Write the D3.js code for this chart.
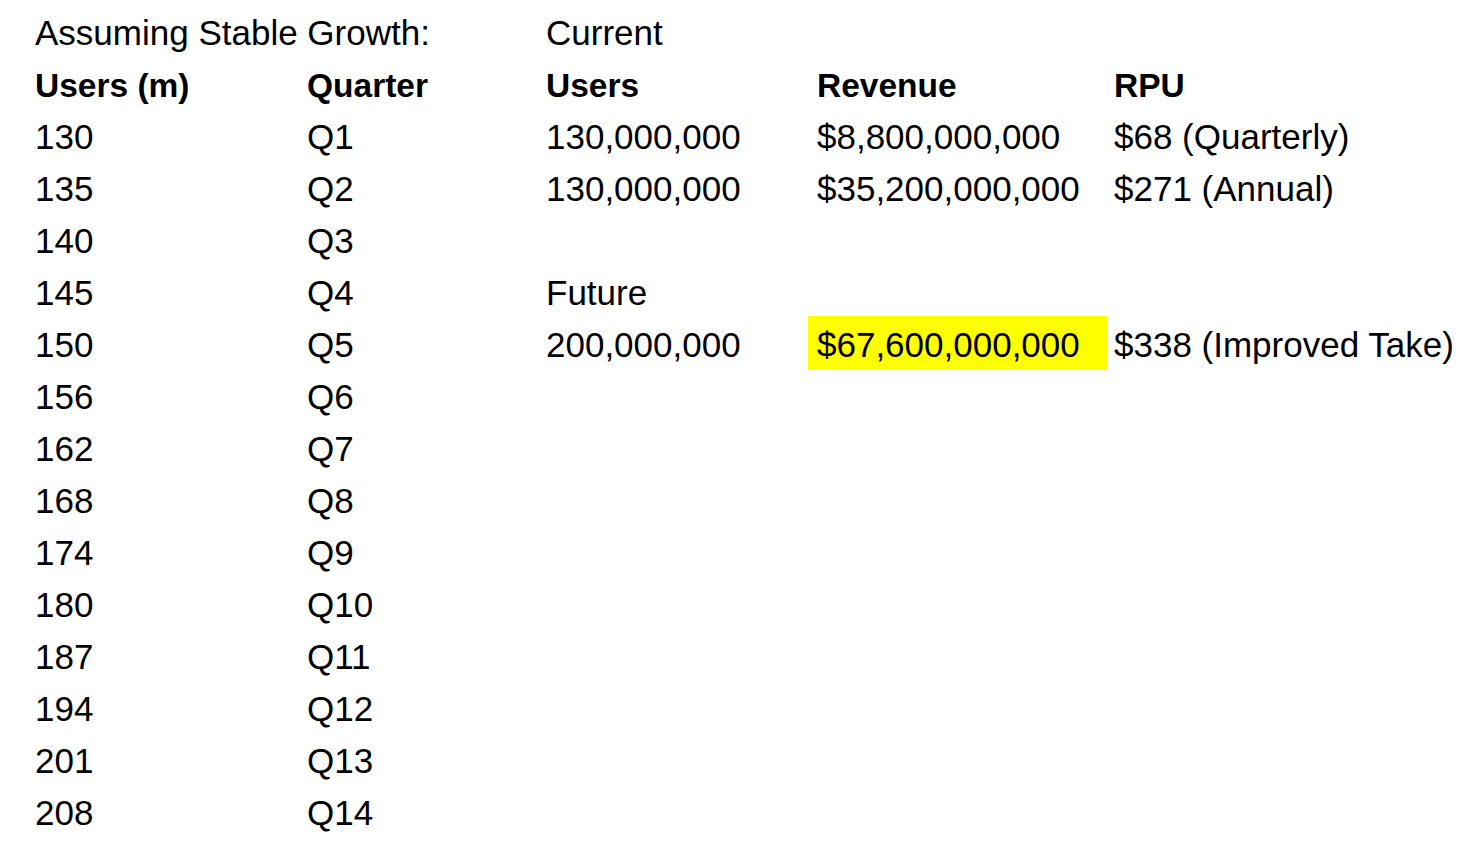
<html>
<head>
<style>
  body { margin: 0; background: #fff; }
  text { font-family: "Liberation Sans", Arial, sans-serif; font-size: 35px; fill: #000; }
  .hd { font-weight: bold; font-size: 33.5px; }
</style>
</head>
<body>
<svg id="sheet"></svg>
<script src="https://d3js.org/d3.v7.min.js"></script>
<script>
// values
var usersM = [130, 135, 140, 145, 150, 156, 162, 168, 174, 180, 187, 194, 201, 208]
var quarters = ["Q1","Q2","Q3","Q4","Q5","Q6","Q7","Q8","Q9","Q10","Q11","Q12","Q13","Q14"]
var currentUsers = [130000000, 130000000]
var currentRevenue = [8800000000, 35200000000]
var currentRpu = ["$68 (Quarterly)", "$271 (Annual)"]
var futureUsers = 200000000
var futureRevenue = 67600000000
var futureRpu = "$338 (Improved Take)"

var width = 1466, height = 851

var svg = d3.select('#sheet').attr('width', width).attr('height', height)

// rows are spreadsheet lines, 16 of them
var y = d3.scaleLinear().domain([0, 15]).range([45, 825])
var x = d3.scaleOrdinal()
    .domain(["A", "B", "C", "D", "E"])
    .range([35, 307, 546, 817, 1114])

var fmt = d3.format(",")
var money = function(v) { return "$" + fmt(v) }

var cells = []
function cell(col, row, txt, cls) { cells.push({col: col, row: row, txt: txt, cls: cls || ""}) }

cell("A", 0, "Assuming Stable Growth:")
cell("C", 0, "Current")
cell("A", 1, "Users (m)", "hd")
cell("B", 1, "Quarter", "hd")
cell("C", 1, "Users", "hd")
cell("D", 1, "Revenue", "hd")
cell("E", 1, "RPU", "hd")
usersM.forEach(function(u, i) {
    cell("A", i + 2, u)
    cell("B", i + 2, quarters[i])
})
currentUsers.forEach(function(u, i) {
    cell("C", i + 2, fmt(u))
    cell("D", i + 2, money(currentRevenue[i]))
    cell("E", i + 2, currentRpu[i])
})
cell("C", 5, "Future")
cell("C", 6, fmt(futureUsers))
cell("D", 6, money(futureRevenue))
cell("E", 6, futureRpu)

// yellow highlight on future revenue
svg.append('rect')
    .attr('x', x("D") - 9)
    .attr('y', y(6) - 41)
    .attr('width', x("E") - x("D") + 2)
    .attr('height', 54)
    .style('fill', '#ffff00')

svg.selectAll('text.cell')
    .data(cells)
    .enter()
    .append('text')
    .attr('class', function(d) { return 'cell ' + d.cls })
    .attr('x', function(d) { return x(d.col) })
    .attr('y', function(d) { return y(d.row) })
    .text(function(d) { return d.txt })
</script>
</body>
</html>
